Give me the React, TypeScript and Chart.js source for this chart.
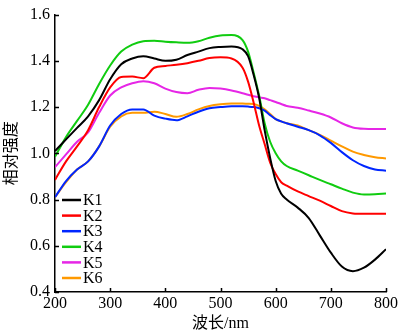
import React, { useEffect, useRef } from "react";
import { Chart, registerables } from "chart.js";

Chart.register(...registerables);

const wavelengths = [200, 220, 240, 260, 280, 300, 320, 340, 360, 380, 400, 420, 440, 460, 480, 500, 520, 540, 550, 560, 570, 580, 590, 600, 610, 620, 640, 660, 680, 700, 720, 740, 760, 780, 800];

const seriesK1 = [1.01, 1.06, 1.11, 1.16, 1.23, 1.32, 1.385, 1.41, 1.42, 1.41, 1.40, 1.405, 1.425, 1.44, 1.455, 1.46, 1.462, 1.45, 1.42, 1.34, 1.24, 1.10, 0.98, 0.88, 0.825, 0.80, 0.765, 0.72, 0.645, 0.57, 0.51, 0.49, 0.505, 0.54, 0.585];
const seriesK2 = [0.885, 0.965, 1.03, 1.10, 1.20, 1.285, 1.33, 1.332, 1.325, 1.37, 1.378, 1.383, 1.39, 1.40, 1.412, 1.415, 1.41, 1.37, 1.31, 1.22, 1.12, 1.04, 0.96, 0.91, 0.875, 0.86, 0.835, 0.815, 0.795, 0.772, 0.75, 0.74, 0.738, 0.738, 0.738];
const seriesK3 = [0.81, 0.88, 0.93, 0.965, 1.03, 1.12, 1.17, 1.19, 1.19, 1.163, 1.15, 1.143, 1.16, 1.18, 1.195, 1.2, 1.203, 1.203, 1.202, 1.2, 1.195, 1.185, 1.165, 1.148, 1.138, 1.13, 1.115, 1.1, 1.078, 1.045, 1.005, 0.97, 0.945, 0.93, 0.925];
const seriesK4 = [0.985, 1.07, 1.14, 1.21, 1.30, 1.38, 1.44, 1.47, 1.485, 1.487, 1.483, 1.48, 1.478, 1.485, 1.50, 1.51, 1.512, 1.49, 1.44, 1.35, 1.25, 1.13, 1.05, 1.0, 0.965, 0.945, 0.925, 0.905, 0.885, 0.866, 0.847, 0.83, 0.822, 0.823, 0.826];
const seriesK5 = [0.94, 0.995, 1.05, 1.09, 1.175, 1.25, 1.285, 1.303, 1.312, 1.303, 1.28, 1.265, 1.26, 1.275, 1.283, 1.28, 1.272, 1.26, 1.253, 1.247, 1.242, 1.238, 1.23, 1.222, 1.213, 1.205, 1.197, 1.185, 1.172, 1.155, 1.13, 1.112, 1.106, 1.105, 1.105];
const seriesK6 = [0.81, 0.875, 0.93, 0.965, 1.03, 1.115, 1.16, 1.175, 1.175, 1.18, 1.17, 1.158, 1.17, 1.19, 1.205, 1.212, 1.215, 1.215, 1.214, 1.213, 1.205, 1.19, 1.17, 1.148, 1.138, 1.13, 1.12, 1.1, 1.08, 1.055, 1.03, 1.007, 0.993, 0.983, 0.978];

const seriesLabels = ["K1", "K2", "K3", "K4", "K5", "K6"];
const seriesValues = [seriesK1, seriesK2, seriesK3, seriesK4, seriesK5, seriesK6];
const seriesColors = ["#000000", "#ff0000", "#0026ff", "#10cc10", "#e626e6", "#ff9900"];

const xTitle = "波长/nm";
const yTitle = "相对强度";

const FONT = "'Liberation Serif', 'Noto Sans CJK SC', serif";

const decorPlugin = {
  id: "decor",
  afterDatasetsDraw(chart: any) {
    const { ctx, chartArea, scales } = chart;
    const xs = scales.x;
    const ys = scales.y;
    ctx.save();
    ctx.strokeStyle = "#000";
    ctx.lineWidth = 1.5;
    ctx.beginPath();
    xs.ticks.forEach((t: any) => {
      const px = Math.round(xs.getPixelForValue(t.value)) + 0.5;
      ctx.moveTo(px, chartArea.bottom);
      ctx.lineTo(px, chartArea.bottom - 4);
    });
    ys.ticks.forEach((t: any) => {
      const py = Math.round(ys.getPixelForValue(t.value)) + 0.5;
      ctx.moveTo(chartArea.left, py);
      ctx.lineTo(chartArea.left + 4, py);
    });
    ctx.stroke();

    // legend
    const x0 = 62;
    const y0 = 200;
    const dy = 15.6;
    ctx.font = "16px " + FONT;
    ctx.textBaseline = "middle";
    ctx.textAlign = "left";
    chart.data.datasets.forEach((ds: any, i: number) => {
      const y = y0 + i * dy;
      ctx.strokeStyle = ds.borderColor;
      ctx.lineWidth = 2.5;
      ctx.beginPath();
      ctx.moveTo(x0, y);
      ctx.lineTo(x0 + 19, y);
      ctx.stroke();
      ctx.fillStyle = "#000";
      ctx.fillText(ds.label, x0 + 21, y + 1);
    });

    // titles
    ctx.fillStyle = "#000";
    ctx.font = "16px " + FONT;
    ctx.textAlign = "center";
    ctx.textBaseline = "middle";
    ctx.fillText(xTitle, (chartArea.left + chartArea.right) / 2, 324);
    ctx.save();
    ctx.translate(12, (chartArea.top + chartArea.bottom) / 2);
    ctx.rotate(-Math.PI / 2);
    ctx.fillText(yTitle, 0, 0);
    ctx.restore();
    ctx.restore();
  },
};

export default function App() {
  const ref = useRef<HTMLCanvasElement>(null);
  useEffect(() => {
    if (!ref.current) return;
    const chart = new Chart(ref.current, {
      type: "line",
      data: {
        datasets: seriesLabels.map((label, i) => ({
          label,
          data: wavelengths.map((w, j) => ({ x: w, y: seriesValues[i][j] })),
          borderColor: seriesColors[i],
          backgroundColor: seriesColors[i],
          borderWidth: 2,
          pointRadius: 0,
          fill: false,
          cubicInterpolationMode: "monotone" as const,
        })),
      },
      options: {
        animation: false,
        responsive: false,
        events: [],
        layout: { padding: { top: 8, right: 10, left: 0, bottom: 0 } },
        plugins: { legend: { display: false }, tooltip: { enabled: false } },
        scales: {
          x: {
            type: "linear",
            min: 200,
            max: 800,
            ticks: {
              stepSize: 100,
              color: "#000",
              padding: 2,
              maxRotation: 0,
              font: { family: FONT, size: 16 },
            },
            grid: { display: true, drawOnChartArea: false, drawTicks: false },
            border: { display: true, color: "#000", width: 1.5 },
            afterFit: (s: any) => {
              s.height = 41;
            },
          },
          y: {
            min: 0.4,
            max: 1.6,
            ticks: {
              stepSize: 0.2,
              color: "#000",
              padding: 5,
              font: { family: FONT, size: 16 },
              callback: (v: any) => Number(v).toFixed(1),
            },
            grid: { display: true, drawOnChartArea: false, drawTicks: false },
            border: { display: true, color: "#000", width: 1.5 },
            afterFit: (s: any) => {
              s.width = 55;
            },
          },
        },
      },
      plugins: [decorPlugin],
    });
    return () => chart.destroy();
  }, []);
  return (
    <div style={{ position: "fixed", left: 0, top: 0, width: 400, height: 333, background: "#fff" }}>
      <canvas ref={ref} width={400} height={333} style={{ width: 400, height: 333, display: "block" }} />
    </div>
  );
}
